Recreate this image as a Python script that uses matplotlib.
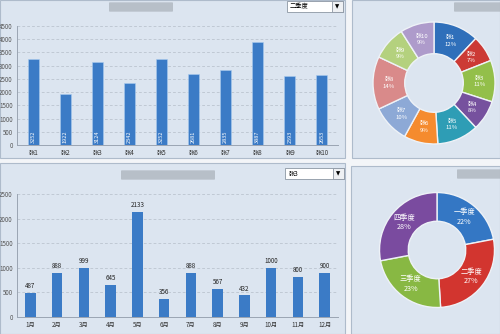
import math
import matplotlib
matplotlib.use('Agg')
import matplotlib.pyplot as plt
from matplotlib.patches import Rectangle, FancyBboxPatch

plt.rcParams['font.family'] = ['Noto Sans CJK SC', 'DejaVu Sans']

# top bar chart - people, values for the selected quarter
people = ['张1', '张2', '张3', '张4', '张5', '张6', '张7', '张8', '张9', '张10']
people_values = [3252, 1922, 3124, 2342, 3252, 2681, 2835, 3887, 2593, 2653]
# top donut - share of each person (percent labels)
people_share = [12, 7, 11, 8, 11, 9, 10, 14, 9, 9]
people_colors = ['#2F6FBA', '#CC3A35', '#93BF4A', '#76519E', '#2E9DB5',
                 '#F58B2E', '#8DA9D6', '#D98A8A', '#B4D17E', '#AE9BCB']
quarter_pick = '二季度'

# bottom bar chart - months for one person
months = ['1月', '2月', '3月', '4月', '5月', '6月', '7月', '8月', '9月', '10月', '11月', '12月']
month_values = [487, 888, 999, 645, 2133, 356, 888, 567, 432, 1000, 800, 900]
person_pick = '张3'
# bottom donut - quarters
quarters = ['一季度', '二季度', '三季度', '四季度']
quarter_share = [22, 27, 23, 28]
quarter_colors = ['#3477C4', '#D2352F', '#88B843', '#7A4B9F']

W, H = 500, 334
panel_bg = '#DCE5F0'
bar_color = '#3B7BC6'


def fr(x0, y0, w, h):   # pixel box (from top-left) -> figure fraction
    return [x0 / W, 1 - (y0 + h) / H, w / W, h / H]


fig = plt.figure(figsize=(5, 3.34), dpi=100)
fig.patch.set_facecolor('#F3F5F8')

# panels (behind the axes)
for (x0, y0, w, h) in [(0, 0, 345, 158), (352, 0, 148, 158), (0, 163, 345, 171), (351, 166, 149, 168)]:
    fig.patches.append(Rectangle((x0 / W, 1 - (y0 + h) / H), w / W, h / H, transform=fig.transFigure,
                                 facecolor=panel_bg, edgecolor='#AEBBCB', linewidth=0.8, zorder=-10))

# blurred titles (unreadable in the reference)
for (x0, y0, w, h) in [(110, 3, 62, 8), (455, 3, 45, 8), (122, 171, 92, 8), (458, 170, 42, 8)]:
    fig.patches.append(FancyBboxPatch((x0 / W, 1 - (y0 + h) / H), w / W, h / H, transform=fig.transFigure,
                                      boxstyle='round,pad=0.002', facecolor='#9FA6AE', edgecolor='none',
                                      alpha=0.6, zorder=-5))


def dropdown(x0, y0, w, h, label):
    fig.patches.append(Rectangle((x0 / W, 1 - (y0 + h) / H), w / W, h / H, transform=fig.transFigure,
                                 facecolor='white', edgecolor='#8C96A3', linewidth=0.6, zorder=-5))
    fig.patches.append(Rectangle(((x0 + w - 11) / W, 1 - (y0 + h) / H), 11 / W, h / H, transform=fig.transFigure,
                                 facecolor='#EEF0F3', edgecolor='#8C96A3', linewidth=0.6, zorder=-4))
    fig.text((x0 + 3) / W, 1 - (y0 + h / 2) / H, label, fontsize=4.5, va='center', ha='left')
    fig.text((x0 + w - 5.5) / W, 1 - (y0 + h / 2) / H, '▼', fontsize=4, va='center', ha='center',
             family=['DejaVu Sans'])


dropdown(287, 1, 56, 11, quarter_pick)
dropdown(285, 168, 59, 11, person_pick)


def style_bar_axes(ax, ymax):
    ax.set_facecolor('none')
    ax.set_ylim(0, ymax)
    ax.set_yticks(range(0, ymax + 1, 500))
    ax.grid(axis='y', linestyle=(0, (4, 3)), color='#B5BDC8', linewidth=0.5)
    ax.set_axisbelow(True)
    for s in ['top', 'right']:
        ax.spines[s].set_visible(False)
    for s in ['left', 'bottom']:
        ax.spines[s].set_color('#9AA5B3')
        ax.spines[s].set_linewidth(0.7)
    ax.tick_params(axis='both', labelsize=4.5, colors='#333333', length=0, pad=3)
    ax.tick_params(axis='y', colors='#555555')


# top bar chart
ax1 = fig.add_axes(fr(17, 26, 321, 119))
x1 = range(len(people))
ax1.bar(x1, people_values, width=0.34, color=bar_color, edgecolor='#A9CBEF', linewidth=0.4)
ax1.set_xlim(-0.5, len(people) - 0.5)
style_bar_axes(ax1, 4500)
ax1.set_xticks(list(x1))
ax1.set_xticklabels(people)
for i, v in enumerate(people_values):
    ax1.text(i, 80, str(v), rotation=90, color='white', fontsize=4, ha='center', va='bottom')

# bottom bar chart
ax2 = fig.add_axes(fr(17, 194, 321, 122.7))
x2 = range(len(months))
ax2.bar(x2, month_values, width=0.4, color=bar_color)
ax2.set_xlim(-0.5, len(months) - 0.5)
style_bar_axes(ax2, 2500)
ax2.set_xticks(list(x2))
ax2.set_xticklabels(months)
for i, v in enumerate(month_values):
    ax2.text(i, v + 60, str(v), color='#222222', fontsize=4.5, ha='center', va='bottom')


def donut(ax, shares, names, colors, inner, fs):
    ax.pie(shares, colors=colors, startangle=90, counterclock=False, radius=1,
           wedgeprops=dict(width=1 - inner, edgecolor='#EEF2F7', linewidth=1.0))
    tot = sum(shares)
    ang = 90.0
    r = (1 + inner) / 2
    for n, s in zip(names, shares):
        mid = ang - s / tot * 360 / 2
        ang -= s / tot * 360
        ax.text(r * math.cos(math.radians(mid)), r * math.sin(math.radians(mid)), f'{n}\n{s}%',
                color='white', fontsize=fs, ha='center', va='center', linespacing=1.3)
    ax.set_xlim(-1, 1)
    ax.set_ylim(-1, 1)
    ax.set_aspect('auto')
    ax.axis('off')


ax3 = fig.add_axes(fr(434 - 61, 83 - 61, 122, 122))
donut(ax3, people_share, people, people_colors, 0.48, 4.3)

ax4 = fig.add_axes(fr(437 - 57.5, 250 - 57.5, 115, 115))
donut(ax4, quarter_share, quarters, quarter_colors, 0.5, 5.2)

fig.savefig('out.png', dpi=100, facecolor=fig.get_facecolor())
